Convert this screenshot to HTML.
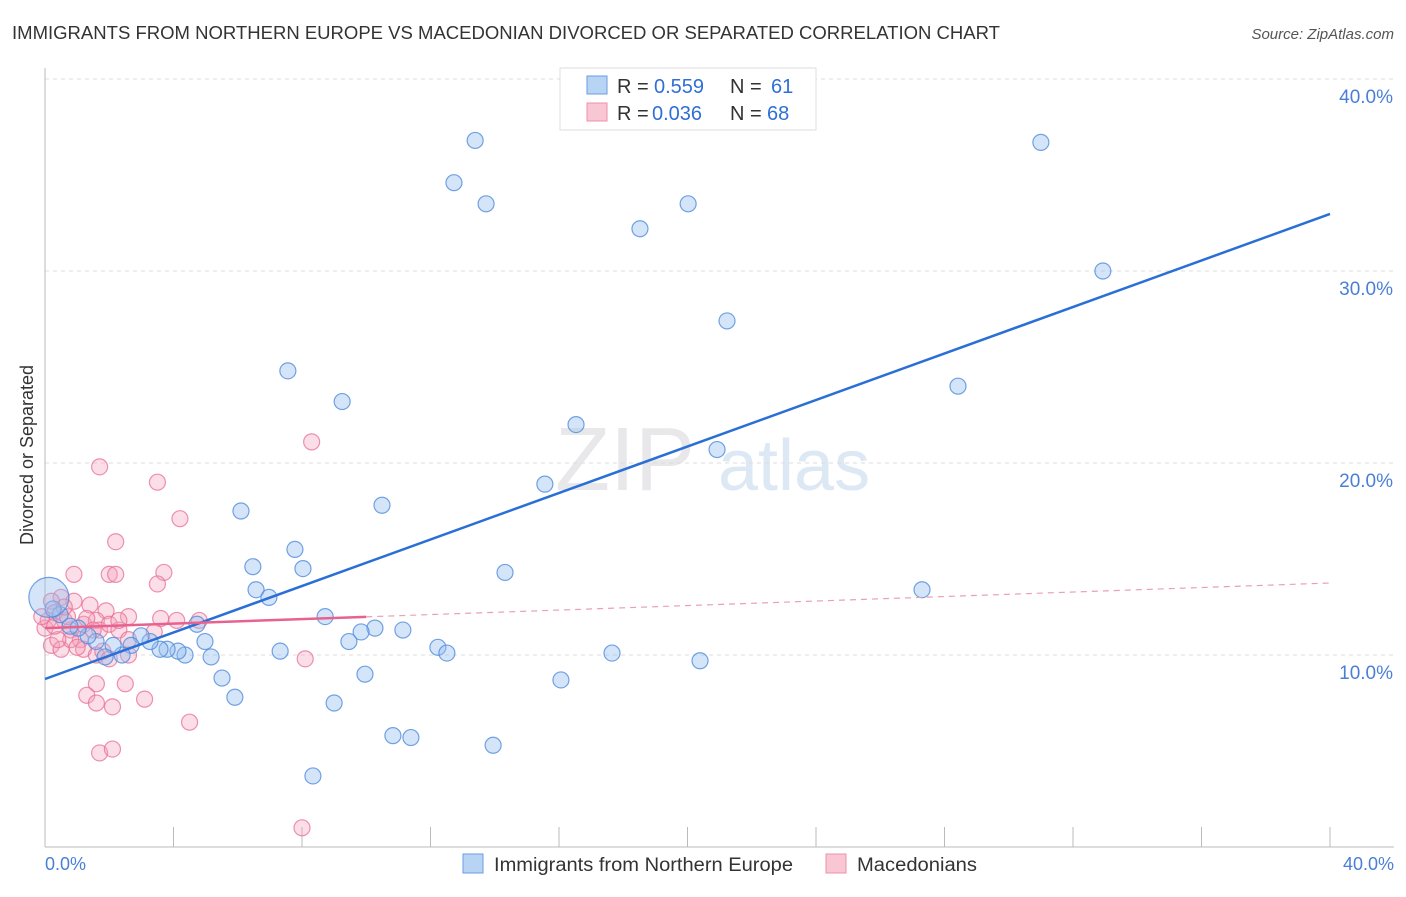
<!DOCTYPE html>
<html><head><meta charset="utf-8"><style>
body{margin:0;background:#fff;font-family:"Liberation Sans",sans-serif;}
svg text{font-family:"Liberation Sans",sans-serif;}
</style></head><body>
<svg id="chart" width="1406" height="892">
<text x="12" y="39" font-size="18" fill="#333" textLength="988" lengthAdjust="spacingAndGlyphs">IMMIGRANTS FROM NORTHERN EUROPE VS MACEDONIAN DIVORCED OR SEPARATED CORRELATION CHART</text>
<text x="1394" y="39" font-size="15" fill="#555" text-anchor="end" font-style="italic">Source: ZipAtlas.com</text>
<text x="555" y="490" font-size="90" fill="#e8e8ea" font-family="Liberation Serif">ZIP</text>
<text x="718" y="490" font-size="72" fill="#dde8f5">atlas</text>
<g id="grid"></g>
<line x1="45" y1="68" x2="45" y2="847" stroke="#bbb"/>
<line x1="45" y1="847" x2="1394" y2="847" stroke="#bbb"/>
<text transform="translate(33,455) rotate(-90)" font-size="18" fill="#333" text-anchor="middle">Divorced or Separated</text>
<text x="45" y="870" font-size="18" fill="#4a7fd6">0.0%</text>
<text x="1394" y="870" font-size="18" fill="#4a7fd6" text-anchor="end">40.0%</text>
<g id="pts"></g>
<g id="lines"></g>
<g>
<rect x="560" y="68" width="256" height="62" fill="#fff" stroke="#ddd"/>
<rect x="587" y="76" width="20" height="18" fill="#b8d4f4" stroke="#6b9be0"/>
<rect x="587" y="103" width="20" height="18" fill="#f9c6d4" stroke="#ee8fab"/>
<text x="617" y="93" font-size="20" fill="#333">R =</text>
<text x="654" y="93" font-size="20" fill="#2f6fd6">0.559</text>
<text x="730" y="93" font-size="20" fill="#333">N =</text>
<text x="771" y="93" font-size="20" fill="#2f6fd6">61</text>
<text x="617" y="120" font-size="20" fill="#333">R =</text>
<text x="652" y="120" font-size="20" fill="#2f6fd6">0.036</text>
<text x="730" y="120" font-size="20" fill="#333">N =</text>
<text x="767" y="120" font-size="20" fill="#2f6fd6">68</text>
</g>
<g>
<rect x="463" y="854" width="20" height="19" fill="#b8d4f4" stroke="#6b9be0"/>
<text x="494" y="871" font-size="19" fill="#333" textLength="299" lengthAdjust="spacingAndGlyphs">Immigrants from Northern Europe</text>
<rect x="826" y="854" width="20" height="19" fill="#f9c6d4" stroke="#ee8fab"/>
<text x="857" y="871" font-size="19" fill="#333" textLength="120" lengthAdjust="spacingAndGlyphs">Macedonians</text>
</g>
</svg>
<script>
const yTicks=[10,20,30,40];
const xTickVals=[0,4,8,12,16,20,24,28,32,36,40];
const blueX=[13.39,12.73,13.73,18.52,20.02,31.0,32.93,21.23,28.42,7.56,9.25,16.53,20.92,15.56,10.49,6.10,7.78,6.47,8.03,14.32,27.30,6.57,6.97,8.72,4.73,10.27,11.14,9.84,9.46,4.98,12.23,12.51,17.65,7.32,20.39,5.17,4.36,4.14,3.80,3.58,3.27,2.99,2.68,2.40,2.12,1.87,1.59,1.34,1.03,0.78,0.47,0.25,0.12,5.51,9.96,5.91,9.0,16.06,10.83,11.39,13.95,8.34];
const blueY=[36.8,34.6,33.5,32.2,33.5,36.7,30.0,27.4,24.0,24.8,23.2,22.0,20.7,18.9,17.8,17.5,15.5,14.6,14.5,14.3,13.4,13.4,13.0,12.0,11.6,11.4,11.3,11.2,10.7,10.7,10.4,10.1,10.1,10.2,9.7,9.9,10.0,10.2,10.3,10.3,10.7,11.0,10.5,10.0,10.5,9.9,10.7,11.0,11.4,11.5,12.1,12.4,13.0,8.8,9.0,7.8,7.5,8.7,5.8,5.7,5.3,3.7];
const blueR=[8,8,8,8,8,8,8,8,8,8,8,8,8,8,8,8,8,8,8,8,8,8,8,8,8,8,8,8,8,8,8,8,8,8,8,8,8,8,8,8,8,8,8,8,8,8,8,8,8,8,8,8,20,8,8,8,8,8,8,8,8,8];
const pinkX=[8.3,1.7,3.5,4.2,2.2,2.0,2.2,3.7,3.5,0.9,0.5,0.9,1.4,1.9,2.6,3.6,4.1,4.8,0.2,0.3,0.6,0.8,1.1,1.2,1.6,1.7,2.0,2.3,2.6,3.4,0.0,0.2,0.5,0.8,1.2,1.6,1.8,2.0,2.6,8.1,2.5,1.6,1.3,3.1,1.6,2.1,4.5,1.7,2.1,8.0,0.4,0.7,1.3,1.5,1.0,0.6,0.1,0.3,-0.1,2.3];
const pinkY=[21.1,19.8,19.0,17.1,15.9,14.2,14.2,14.3,13.7,14.2,13.0,12.8,12.6,12.3,12.0,11.9,11.8,11.8,12.8,12.2,11.8,11.3,10.8,11.6,11.8,11.3,11.6,11.3,10.8,11.2,11.4,10.5,10.3,10.8,10.3,10.0,10.2,9.8,10.0,9.8,8.5,8.5,7.9,7.7,7.5,7.3,6.5,4.9,5.1,1.0,10.8,12.0,11.9,11.3,10.4,12.5,11.8,11.5,12.0,11.8];
const blueLine=[8.75,32.97];
const pinkLine=[11.4,13.75];
const pinkSolidEnd=10;
const X=v=>45+v/40*1285, Y=v=>847-v*19.2;
const NS="http://www.w3.org/2000/svg";
const grid=document.getElementById('grid');
for(const t of yTicks){
 const l=document.createElementNS(NS,'line');
 l.setAttribute('x1',45);l.setAttribute('x2',1394);l.setAttribute('y1',Y(t));l.setAttribute('y2',Y(t));
 l.setAttribute('stroke','#ddd');l.setAttribute('stroke-dasharray','4,4');
 
 
 grid.appendChild(l);
 const tx=document.createElementNS(NS,'text');
 tx.setAttribute('x',1393);tx.setAttribute('y',Y(t)+24);tx.setAttribute('text-anchor','end');
 tx.setAttribute('font-size','19');tx.setAttribute('fill','#4a7fd6');tx.textContent=t.toFixed(1)+'%';
 
 
 grid.appendChild(tx);
}
for(const t of xTickVals){
 const l=document.createElementNS(NS,'line');
 l.setAttribute('x1',X(t));l.setAttribute('x2',X(t));l.setAttribute('y1',827);l.setAttribute('y2',847);
 l.setAttribute('stroke','#bbb');
 
 
 grid.appendChild(l);
}
const pts=document.getElementById('pts');
function dot(x,y,r,fill,stroke,name){
 const c=document.createElementNS(NS,'circle');
 c.setAttribute('cx',X(x));c.setAttribute('cy',Y(y));c.setAttribute('r',r);
 c.setAttribute('fill',fill);c.setAttribute('stroke',stroke);c.setAttribute('stroke-width','1.2');
 
 
 pts.appendChild(c);
}
pinkX.forEach((x,i)=>dot(x,pinkY[i],8,'rgba(244,160,186,0.35)','rgba(232,110,150,0.75)','macedonian-point'));
blueX.forEach((x,i)=>dot(x,blueY[i],blueR[i],'rgba(150,190,240,0.4)','rgba(80,140,220,0.8)','northern-europe-point'));
const lines=document.getElementById('lines');
function ln(x1,y1,x2,y2,stroke,w,dash,name){
 const l=document.createElementNS(NS,'line');
 l.setAttribute('x1',X(x1));l.setAttribute('y1',Y(y1));l.setAttribute('x2',X(x2));l.setAttribute('y2',Y(y2));
 l.setAttribute('stroke',stroke);l.setAttribute('stroke-width',w);if(dash)l.setAttribute('stroke-dasharray',dash);
 
 
 lines.appendChild(l);
}
const py=x=>pinkLine[0]+(pinkLine[1]-pinkLine[0])*x/40;
ln(0,blueLine[0],40,blueLine[1],'#2a6fd6',2.5,null,'blue-trend-line');
ln(0,py(0),pinkSolidEnd,py(pinkSolidEnd),'#e8628f',2.5,null,'pink-trend-line');
ln(pinkSolidEnd,py(pinkSolidEnd),40,py(40),'#e8a0b8',1.2,'6,5','pink-trend-extension');
</script>
</body></html>
